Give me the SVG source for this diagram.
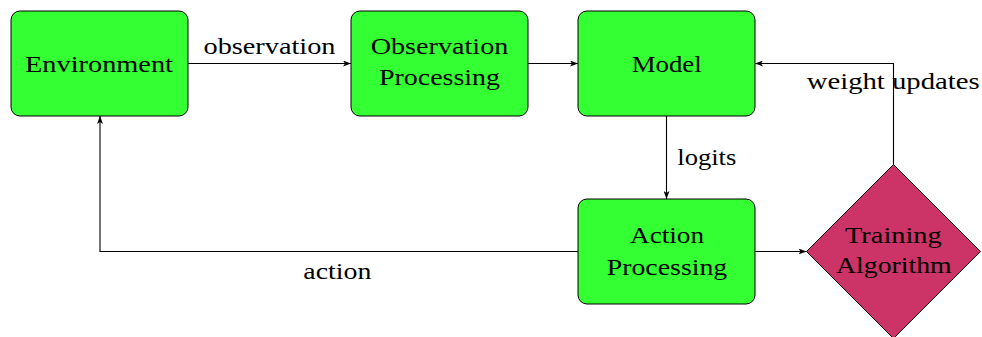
<svg xmlns="http://www.w3.org/2000/svg" width="982" height="337" viewBox="0 0 982 337">
  <style>
    .box { fill: #33ff33; stroke: #000; stroke-width: 1; }
    .diamond { fill: #cc3366; stroke: #000; stroke-width: 1; }
    .lbl { font-family: 'Liberation Serif', 'Times New Roman', Times, serif; font-size: 24px; fill: #000; }
    .edge { fill: none; stroke: #000; stroke-width: 1.1; }
  </style>
  <defs>
    <marker id="arrow" viewBox="0 0 8 6" refX="8" refY="3" markerWidth="8" markerHeight="6" markerUnits="userSpaceOnUse" orient="auto">
      <path d="M0,0 L8,3 L0,6 L2,3 z" fill="#000"/>
    </marker>
  </defs>

  <!-- connectors -->
  <g id="connectors">
    <path class="edge" d="M188,63.5 H351" marker-end="url(#arrow)"/>
    <text class="lbl" x="203.5" y="54" textLength="132" lengthAdjust="spacingAndGlyphs">observation</text>

    <path class="edge" d="M528,63.5 H578" marker-end="url(#arrow)"/>

    <path class="edge" d="M666.5,116 V199" marker-end="url(#arrow)"/>
    <text class="lbl" x="677.3" y="165" textLength="59" lengthAdjust="spacingAndGlyphs">logits</text>

    <path class="edge" d="M755,251.5 H806.5" marker-end="url(#arrow)"/>

    <path class="edge" d="M893.5,164.5 V63.5 H755" marker-end="url(#arrow)"/>
    <text class="lbl" x="806.7" y="89" textLength="173" lengthAdjust="spacingAndGlyphs">weight updates</text>

    <path class="edge" d="M578,251.5 H100 V116" marker-end="url(#arrow)"/>
    <text class="lbl" x="303.3" y="279" textLength="68" lengthAdjust="spacingAndGlyphs">action</text>
  </g>

  <!-- nodes -->
  <g id="environment">
    <rect class="box" x="11" y="11" width="177" height="105" rx="9"/>
    <text class="lbl" x="25" y="72" textLength="148" lengthAdjust="spacingAndGlyphs">Environment</text>
  </g>

  <g id="observation-processing">
    <rect class="box" x="351" y="11" width="177" height="105" rx="9"/>
    <text class="lbl" x="370.7" y="54.3" textLength="137.6" lengthAdjust="spacingAndGlyphs">Observation</text>
    <text class="lbl" x="379" y="84.5" textLength="121" lengthAdjust="spacingAndGlyphs">Processing</text>
  </g>

  <g id="model">
    <rect class="box" x="578" y="11" width="177" height="105" rx="9"/>
    <text class="lbl" x="631.7" y="72.3" textLength="70" lengthAdjust="spacingAndGlyphs">Model</text>
  </g>

  <g id="action-processing">
    <rect class="box" x="578" y="199" width="177" height="105" rx="9"/>
    <text class="lbl" x="630" y="243.3" textLength="74" lengthAdjust="spacingAndGlyphs">Action</text>
    <text class="lbl" x="606.7" y="275" textLength="120.6" lengthAdjust="spacingAndGlyphs">Processing</text>
  </g>

  <g id="training-algorithm">
    <polygon class="diamond" points="893.5,164.5 980.5,251.5 893.5,338.5 806.5,251.5"/>
    <text class="lbl" x="845" y="243.3" textLength="96.7" lengthAdjust="spacingAndGlyphs">Training</text>
    <text class="lbl" x="836" y="272.8" textLength="115.7" lengthAdjust="spacingAndGlyphs">Algorithm</text>
  </g>
</svg>
